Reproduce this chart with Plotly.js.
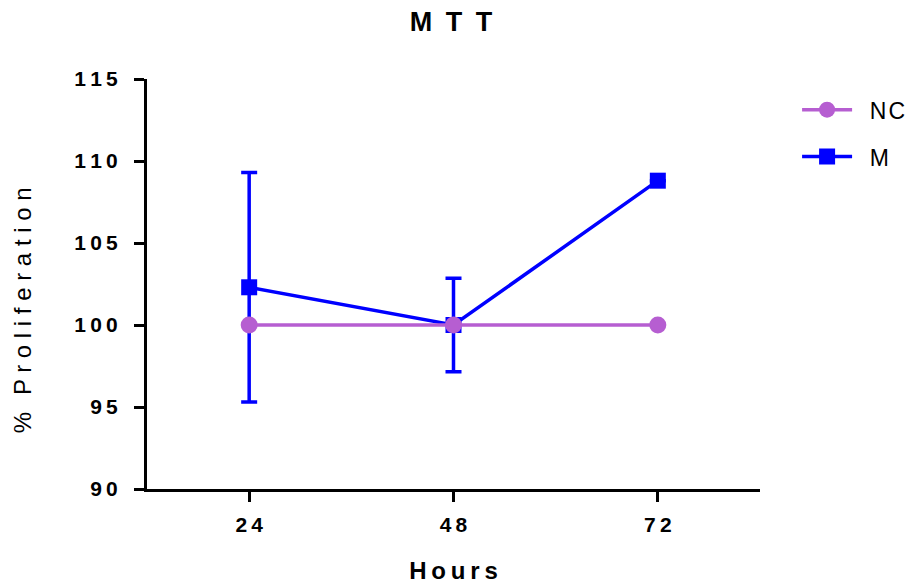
<!DOCTYPE html>
<html>
<head>
<meta charset="utf-8">
<script src="https://cdn.plot.ly/plotly-3.0.1.min.js"></script>
<style>html,body{margin:0;padding:0;background:#fff;}#chart{width:912px;height:584px;}</style>
</head>
<body>
<div id="chart"></div>
<script>
const hours = [24, 48, 72];
const hourLabels = ["2\u20094", "4\u20098", "7\u20092"];
const ncValues = [100, 100, 100];
const mValues = [102.3, 100.0, 108.8];
const mErrors = [7.0, 2.85, 0];
const yTickVals = [90, 95, 100, 105, 110, 115];
const yTickLabels = ["9\u20090", "9\u20095", "1\u20090\u20090", "1\u20090\u20095", "1\u20091\u20090", "1\u20091\u20095"];

const FONT = "Liberation Sans, Arial, sans-serif";
const NBSP = "\u00a0";
const traces = [
  {
    x: hours, y: mValues, name: NBSP.repeat(2) + "M", type: "scatter", mode: "lines+markers",
    legendgroup: "m", legendrank: 2,
    line: {color: "#0000FF", width: 3.5},
    marker: {symbol: "square", size: 16, color: "#0000FF"},
    error_y: {type: "data", array: mErrors, visible: true, color: "#0000FF", thickness: 3.5, width: 8}
  },
  {
    x: hours, y: ncValues, name: NBSP.repeat(2) + "N\u200aC", type: "scatter", mode: "lines+markers",
    legendgroup: "nc", legendrank: 1,
    line: {color: "#B65ED1", width: 3.5},
    marker: {symbol: "circle", size: 17, color: "#B65ED1"}
  }
];

const layout = {
  width: 912, height: 584,
  margin: {l: 147, r: 152, t: 79, b: 95, autoexpand: false},
  paper_bgcolor: "#fff", plot_bgcolor: "#fff",
  font: {family: FONT, color: "#000"},
  title: {text: "<b>M\u2002T\u2002T</b>", font: {size: 27, color: "#000", family: FONT}, x: 0.4945, xanchor: "center", y: 0.963, yanchor: "middle"},
  showlegend: true,
  legend: {xref: "container", yref: "container", x: 0.874, xanchor: "left", y: 0.849, yanchor: "top",
           traceorder: "grouped", tracegroupgap: 14, itemwidth: 50,
           font: {size: 23, color: "#000", family: FONT}, bgcolor: "rgba(0,0,0,0)"},
  xaxis: {
    range: [12, 84], tickvals: hours, ticktext: hourLabels,
    showline: true, linecolor: "#000", linewidth: 3, mirror: false,
    ticks: "outside", ticklen: 10, tickwidth: 3, tickcolor: "#000",
    showgrid: false, zeroline: false, fixedrange: true,
    tickfont: {size: 21, color: "#000", family: FONT, weight: "bold"},
    ticklabelstandoff: 5,
    title: {text: "<b>H\u2009o\u2009u\u2009r\u2009s</b>", font: {size: 24, color: "#000", family: FONT}, standoff: 27}
  },
  yaxis: {
    range: [90, 115], tickvals: yTickVals, ticktext: yTickLabels,
    showline: true, linecolor: "#000", linewidth: 3,
    ticks: "outside", ticklen: 10, tickwidth: 3, tickcolor: "#000",
    showgrid: false, zeroline: false, fixedrange: true,
    tickfont: {size: 21, color: "#000", family: FONT, weight: "bold"},
    ticklabelstandoff: 12
  },
  annotations: [{
    text: "%\u2002\u2009P r o l i f e r a t i o n",
    xref: "paper", yref: "paper", x: -0.203, y: 0.435, xanchor: "center", yanchor: "middle",
    textangle: -90, showarrow: false, font: {size: 24, color: "#000", family: FONT}
  }]
};

Plotly.newPlot("chart", traces, layout, {staticPlot: true, displayModeBar: false});
</script>
</body>
</html>
